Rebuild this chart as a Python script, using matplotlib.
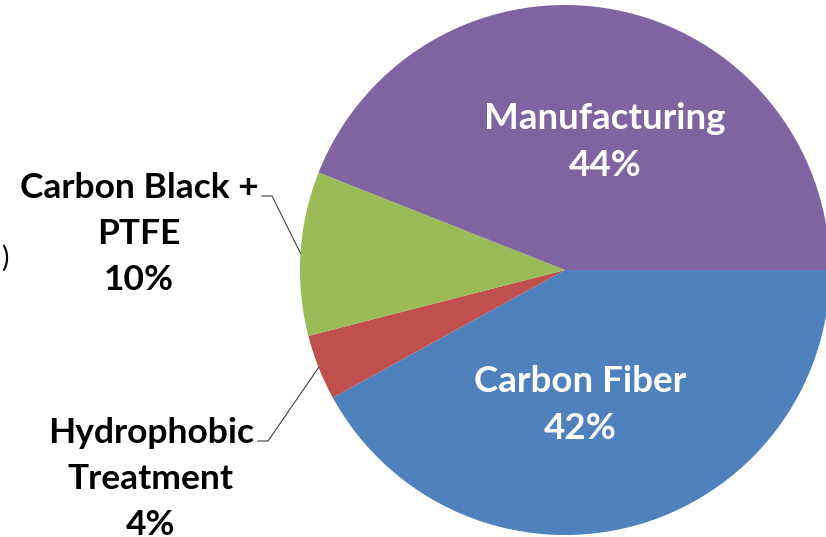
import numpy as np
import matplotlib.pyplot as plt

categories = ['Carbon Fiber', 'Hydrophobic\nTreatment', 'Carbon Black +\nPTFE', 'Manufacturing']
shares = [42, 4, 10, 44]
colors = ['#4F81BD', '#C0504D', '#9BBB59', '#8064A2']

W, H = 826, 537
fig = plt.figure(figsize=(W / 100, H / 100), dpi=100)
fig.patch.set_facecolor('white')
ax = fig.add_axes([0, 0, 1, 1])

cx, cy, r = 565, H - 270, 265
wedges, _ = ax.pie(shares, colors=colors, startangle=0, counterclock=False,
                   center=(cx, cy), radius=r, frame=True,
                   wedgeprops=dict(linewidth=0))
ax.set_xlim(0, W)
ax.set_ylim(0, H)
ax.set_aspect('equal')
ax.axis('off')

font = dict(family=['Lato', 'DejaVu Sans'], fontweight='bold',
            ha='center', va='center', linespacing=1.55)

# labels inside
ax.text(605, H - 142, 'Manufacturing\n44%', color='white', fontsize=26.5, **font)
ax.text(580, H - 405, 'Carbon Fiber\n42%', color='white', fontsize=26.5, **font)

# outside labels
ax.text(139, H - 234, 'Carbon Black +\nPTFE\n10%', color='black', fontsize=25.5, **font)
ax.text(151, H - 479, 'Hydrophobic\nTreatment\n4%', color='black', fontsize=25.5, **font)

# leader lines from wedge mid-angles
def anchor(w):
    mid = np.deg2rad((w.theta1 + w.theta2) / 2)
    return cx + r * np.cos(mid), cy + r * np.sin(mid)

x1, y1 = anchor(wedges[2])
ax.plot([262, 272, x1], [H - 196, H - 196, y1], color='#404040', lw=0.8)
x2, y2 = anchor(wedges[1])
ax.plot([258, 268, x2], [H - 441, H - 441, y2], color='#404040', lw=0.8)

ax.text(5, H - 258, ')', fontsize=20, ha='center', va='center', color='black',
        family=['Lato', 'DejaVu Sans'])

fig.savefig('out.png', dpi=100, facecolor=fig.get_facecolor())
